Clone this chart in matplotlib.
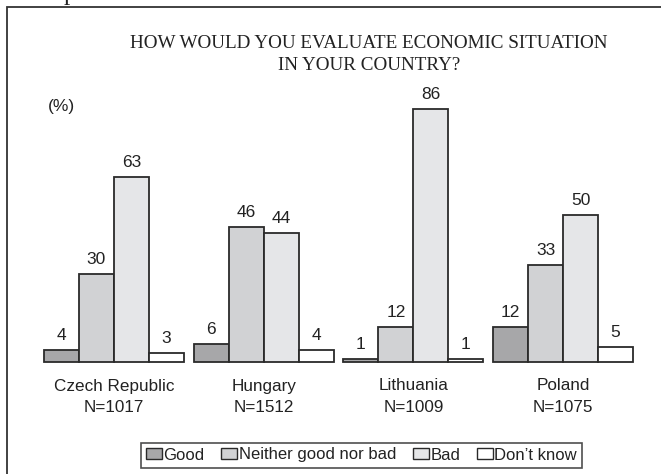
import numpy as np
import matplotlib
matplotlib.use('Agg')
import matplotlib.pyplot as plt
from matplotlib.patches import Rectangle, Patch

plt.rcParams['font.family'] = ['Liberation Sans', 'DejaVu Sans']

# data
countries = ['Czech Republic', 'Hungary', 'Lithuania', 'Poland']
sizes = ['N=1017', 'N=1512', 'N=1009', 'N=1075']
answers = ['Good', 'Neither good nor bad', 'Bad', 'Don\u2019t know']
good = [4, 6, 1, 12]
neither = [30, 46, 12, 33]
bad = [63, 44, 86, 50]
dont_know = [3, 4, 1, 5]

colors = ['#a7a7a9', '#d1d2d4', '#e5e6e8', '#ffffff']
edge = '#2a2a2a'

W, H = 661, 474
fig = plt.figure(figsize=(W / 100, H / 100), dpi=100)
ax = fig.add_axes([0, 0, 1, 1])

# pixel geometry: bar width ~35px, baseline at y=362, ~2.94px per percent
px_x = 34.98
px_y = 2.94
x0_px, base_px = 44, 362
ax.set_xlim(-x0_px / px_x, (W - x0_px) / px_x)
ax.set_ylim(-(H - base_px) / px_y, base_px / px_y)
ax.axis('off')

step = 4.28
groups = np.arange(len(countries)) * step
series = [good, neither, bad, dont_know]
for j, vals in enumerate(series):
    xs = groups + j + 0.5
    ax.bar(xs, vals, width=1.0, color=colors[j], edgecolor=edge, linewidth=1.3,
           label=answers[j], zorder=2)
    for x, v in zip(xs, vals):
        ax.annotate(str(v), (x, v), xytext=(0, 5), textcoords='offset points',
                    ha='center', va='bottom', fontsize=12.5, color='#222222')

for g, c, n in zip(groups, countries, sizes):
    ax.text(g + 2, -(386 - base_px) / px_y, c, ha='center', va='center',
            fontsize=12.3, color='#222222')
    ax.text(g + 2, -(407 - base_px) / px_y, n, ha='center', va='center',
            fontsize=12.3, color='#222222')

# frame around the chart (open on the right and bottom)
fig.patches.append(Rectangle((7 / W, -0.1), 1.2, 1 - 7 / H + 0.1,
                             transform=fig.transFigure, fill=False,
                             edgecolor='#333333', linewidth=1.3))
fig.text(70 / W, 1 + 6 / H, 'p', family='Liberation Serif', fontsize=18,
         ha='center', va='center', color='#222222')

fig.text(369 / W, 1 - 44 / H, 'HOW WOULD YOU EVALUATE ECONOMIC SITUATION',
         family='Liberation Serif', fontsize=13.8, ha='center', va='center',
         color='#222222')
fig.text(369 / W, 1 - 65 / H, 'IN YOUR COUNTRY?',
         family='Liberation Serif', fontsize=13.8, ha='center', va='center',
         color='#222222')
fig.text(48 / W, 1 - 107 / H, '(%)', fontsize=12.5, ha='left', va='center',
         color='#222222')

handles = [Patch(facecolor=colors[j], edgecolor=edge, linewidth=1.0) for j in range(4)]
leg = fig.legend(handles, answers, loc='center', bbox_to_anchor=(361.5 / W, 1 - 455 / H),
                 ncol=4, fontsize=12, frameon=True, fancybox=False,
                 handlelength=0.95, handleheight=0.6, handletextpad=0.1,
                 columnspacing=1.0, borderpad=0.3, borderaxespad=0)
leg.get_frame().set_edgecolor('#222222')
leg.get_frame().set_linewidth(1.2)
for t in leg.get_texts():
    t.set_color('#222222')

fig.savefig('out.png', dpi=100)
